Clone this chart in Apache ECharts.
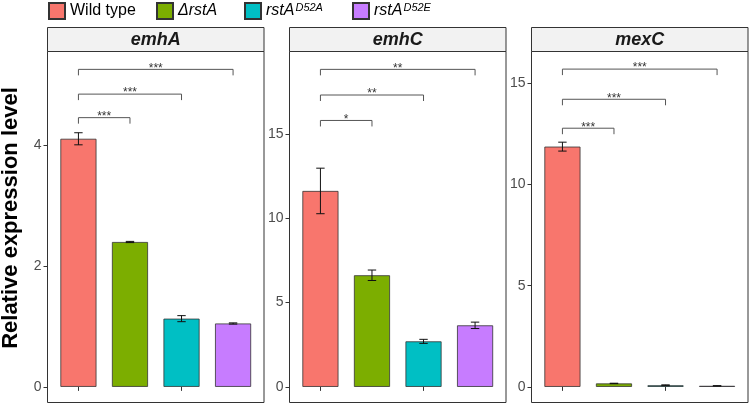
<!DOCTYPE html>
<html>
<head>
<meta charset="utf-8">
<script src="https://cdn.jsdelivr.net/npm/echarts@6/dist/echarts.min.js"></script>
<style>
  html, body { margin: 0; padding: 0; background: #fff; }
  #chart { width: 750px; height: 407px; }
</style>
</head>
<body>
<div id="chart"></div>
<script>
// 基因型 / 颜色
var strains = ['Wild type', 'ΔrstA', 'rstAD52A', 'rstAD52E'];
var colors = ['#F8766D', '#7CAE00', '#00BFC4', '#C77CFF'];
var genes = ['emhA', 'emhC', 'mexC'];

// 表达量均值与误差
var emhAMean = [4.11, 2.40, 1.13, 1.05];
var emhAErr = [0.10, 0.01, 0.05, 0.01];
var emhCMean = [11.62, 6.62, 2.70, 3.65];
var emhCErr = [1.35, 0.31, 0.12, 0.19];
var mexCMean = [11.87, 0.17, 0.08, 0.05];
var mexCErr = [0.22, 0.01, 0.02, 0.01];

// y 轴刻度
var emhATicks = [0, 2, 4];
var emhCTicks = [0, 5, 10, 15];
var mexCTicks = [0, 5, 10, 15];

// 显著性标记: [from, to, height, label]
var emhASig = [[0, 1, 4.46, '***'], [0, 2, 4.85, '***'], [0, 3, 5.26, '***']];
var emhCSig = [[0, 1, 15.8, '*'], [0, 2, 17.31, '**'], [0, 3, 18.83, '**']];
var mexCSig = [[0, 1, 12.78, '***'], [0, 2, 14.21, '***'], [0, 3, 15.70, '***']];

var means = [emhAMean, emhCMean, mexCMean];
var errs = [emhAErr, emhCErr, mexCErr];
var ticks = [emhATicks, emhCTicks, mexCTicks];
var sigs = [emhASig, emhCSig, mexCSig];

// 布局
var panelX = [47.5, 289.5, 531.5];
var panelW = 216.5;
var stripTop = 27.5;
var plotTop = 51.5;
var plotBottom = 402.5;
var yMin = [-0.259, -0.926, -0.772];
var yMax = [5.556, 19.89, 16.57];
var inset = panelW / 4.2 * 0.1;
var font = 'Liberation Sans, Arial, sans-serif';

var chart = echarts.init(document.getElementById('chart'));

var grids = [], xAxes = [], yAxes = [], series = [], graphics = [];

genes.forEach(function (gene, p) {
    grids.push({
        left: panelX[p] + inset,
        width: panelW - 2 * inset,
        top: plotTop,
        height: plotBottom - plotTop,
        containLabel: false,
        outerBoundsMode: 'none'
    });
    xAxes.push({
        type: 'category',
        gridIndex: p,
        data: strains,
        boundaryGap: true,
        axisLine: { show: false },
        axisTick: { show: true, alignWithLabel: true, length: 4, lineStyle: { color: '#333' } },
        axisLabel: { show: false },
        splitLine: { show: false }
    });
    yAxes.push({
        type: 'value',
        gridIndex: p,
        min: yMin[p],
        max: yMax[p],
        offset: inset,
        axisLine: { show: false },
        splitLine: { show: false },
        axisTick: { show: true, length: 4, lineStyle: { color: '#333' }, customValues: ticks[p] },
        axisLabel: { fontSize: 14, color: '#4d4d4d', margin: 6, fontFamily: font, customValues: ticks[p] }
    });

    strains.forEach(function (s, g) {
        series.push({
            name: s,
            type: 'bar',
            xAxisIndex: p,
            yAxisIndex: p,
            barWidth: '70%',
            barGap: '-100%',
            data: strains.map(function (c, i) { return i === g ? means[p][i] : '-'; }),
            itemStyle: { color: colors[g], borderColor: '#333', borderWidth: 0.8 }
        });
    });

    // 误差线
    series.push({
        type: 'custom',
        xAxisIndex: p,
        yAxisIndex: p,
        clip: false,
        z: 5,
        data: means[p].map(function (m, i) { return [i, m, errs[p][i]]; }),
        renderItem: function (params, api) {
            var x = api.value(0), m = api.value(1), e = api.value(2);
            var t = api.coord([x, m + e]);
            var b = api.coord([x, m - e]);
            var cap = 4.2;
            var st = { stroke: '#111', lineWidth: 1 };
            return {
                type: 'group',
                children: [
                    { type: 'line', shape: { x1: t[0], y1: t[1], x2: b[0], y2: b[1] }, style: st },
                    { type: 'line', shape: { x1: t[0] - cap, y1: t[1], x2: t[0] + cap, y2: t[1] }, style: st },
                    { type: 'line', shape: { x1: b[0] - cap, y1: b[1], x2: b[0] + cap, y2: b[1] }, style: st }
                ]
            };
        }
    });

    // 显著性括号
    series.push({
        type: 'custom',
        xAxisIndex: p,
        yAxisIndex: p,
        clip: false,
        z: 5,
        data: sigs[p].map(function (s) { return [s[0], s[1], s[2]]; }),
        renderItem: function (params, api) {
            var a = api.coord([api.value(0), api.value(2)]);
            var b = api.coord([api.value(1), api.value(2)]);
            var leg = 6;
            return {
                type: 'group',
                children: [
                    {
                        type: 'polyline',
                        shape: { points: [[a[0], a[1] + leg], [a[0], a[1]], [b[0], b[1]], [b[0], b[1] + leg]] },
                        style: { stroke: '#555', lineWidth: 1, fill: null }
                    },
                    {
                        type: 'text',
                        style: {
                            x: (a[0] + b[0]) / 2, y: a[1] - 1,
                            text: sigs[p][params.dataIndex][3],
                            align: 'center', verticalAlign: 'middle',
                            fontSize: 12, fill: '#333', fontFamily: font
                        }
                    }
                ]
            };
        }
    });

    // 面板边框与标题条
    graphics.push({
        type: 'rect', z: 10,
        shape: { x: panelX[p], y: plotTop, width: panelW, height: plotBottom - plotTop },
        style: { fill: null, stroke: '#333', lineWidth: 1 }
    });
    graphics.push({
        type: 'rect', z: 10,
        shape: { x: panelX[p], y: stripTop, width: panelW, height: plotTop - stripTop },
        style: { fill: '#F2F2F2', stroke: '#333', lineWidth: 1 }
    });
    graphics.push({
        type: 'text', z: 11,
        style: {
            x: panelX[p] + panelW / 2, y: (stripTop + plotTop) / 2 + 1,
            text: gene, align: 'center', verticalAlign: 'middle',
            font: 'italic bold 18px ' + font, fill: '#1a1a1a'
        }
    });
});

graphics.push({
    type: 'text', z: 11,
    x: 11, y: 218, rotation: Math.PI / 2,
    style: {
        x: 0, y: 0,
        text: 'Relative expression level', align: 'center', verticalAlign: 'middle',
        font: 'bold 22px ' + font, fill: '#000'
    }
});

function legendLabel(name) {
    if (name === 'Wild type') return name;
    if (name === 'ΔrstA') return '{i|ΔrstA}';
    return '{i|rstA}{sup|' + name.slice(4) + '}';
}

var legendLeft = [48, 156, 244, 352];
var legends = strains.map(function (s, i) {
    return {
        data: [{ name: s, icon: 'rect' }],
        left: legendLeft[i],
        top: 2,
        padding: 0,
        itemWidth: 16,
        itemHeight: 16,
        itemGap: 0,
        formatter: legendLabel,
        textStyle: {
            fontSize: 16, color: '#000', fontFamily: font,
            rich: {
                i: { fontSize: 16, fontStyle: 'italic', color: '#000', fontFamily: font },
                sup: { fontSize: 11, fontStyle: 'italic', color: '#000', fontFamily: font, verticalAlign: 'top', padding: [0, 0, 6, 1] }
            }
        }
    };
});

chart.setOption({
    animation: false,
    legend: legends,
    grid: grids,
    xAxis: xAxes,
    yAxis: yAxes,
    series: series,
    graphic: graphics
});
</script>
</body>
</html>
